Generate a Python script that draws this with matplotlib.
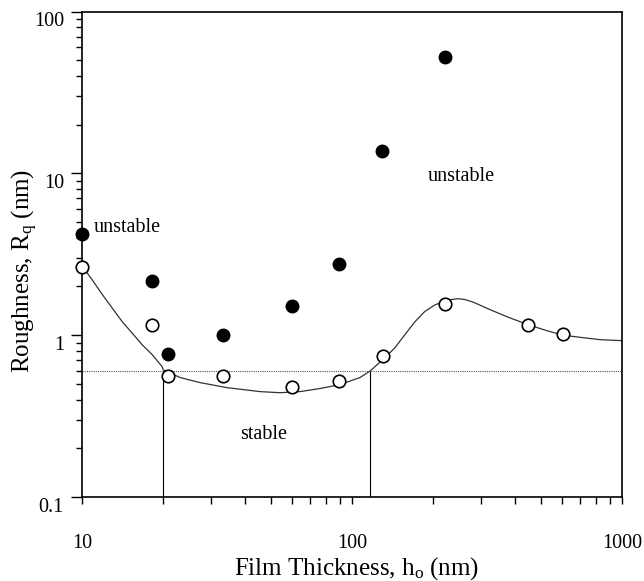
import matplotlib
matplotlib.use("Agg")
import matplotlib.pyplot as plt
import matplotlib.transforms as mtransforms
from matplotlib.ticker import FixedLocator, LogLocator, NullFormatter

plt.rcParams['font.family'] = ['Liberation Serif', 'DejaVu Serif']
plt.rcParams['mathtext.fontset'] = 'custom'
plt.rcParams['mathtext.rm'] = 'Liberation Serif'
plt.rcParams['mathtext.it'] = 'Liberation Serif:italic'

# unstable films (filled circles)
unstable_h = [10, 18.2, 20.8, 33.3, 60, 89.5, 129, 221]
unstable_rq = [4.23, 2.17, 0.76, 1.0, 1.52, 2.76, 13.8, 52.4]

# stable / measured films (open circles)
stable_h = [10, 18.2, 20.8, 33.3, 60, 89.5, 130, 221, 449, 604]
stable_rq = [2.65, 1.15, 0.56, 0.56, 0.48, 0.52, 0.74, 1.56, 1.15, 1.01]

# fitted curve
curve_h = [10, 10.9, 11.9, 12.9, 14.1, 15.3, 16.7, 18.2, 19.8, 20.0, 23.1, 27.4,
           34.4, 45.6, 54.1, 64.2, 76.1, 90.2, 107, 116.6, 132.5, 144.3, 157,
           171, 186, 203, 221, 233, 247, 262, 281, 324, 375, 449, 527, 604,
           717, 829, 1000]
curve_rq = [2.68, 2.20, 1.78, 1.48, 1.21, 1.035, 0.873, 0.758, 0.639, 0.61, 0.547,
            0.509, 0.474, 0.448, 0.441, 0.448, 0.468, 0.495, 0.547, 0.60, 0.726,
            0.837, 1.007, 1.21, 1.40, 1.54, 1.62, 1.66, 1.68, 1.66, 1.60, 1.44,
            1.30, 1.16, 1.066, 1.0, 0.965, 0.938, 0.925]

threshold = 0.6
stable_limits = [20.0, 116.6]

fig = plt.figure(figsize=(6.44, 5.81), dpi=100)
ax = fig.add_axes([82 / 644, 84 / 581, 540 / 644, 485.5 / 581])
ax.set_xscale('log')
ax.set_yscale('log')
ax.set_xlim(10, 1000)
ax.set_ylim(0.1, 100)

ax.plot(curve_h, curve_rq, color='#333333', lw=0.9, zorder=2)
ax.axhline(threshold, color='#555555', lw=0.8, ls=(0, (1, 1)), zorder=1)
ax.vlines(stable_limits, 0.1, threshold, color='black', lw=0.8, zorder=1)

ax.plot(stable_h, stable_rq, 'o', ms=9, mfc='white', mec='black', mew=1.2,
        ls='none', zorder=3, clip_on=False)
ax.plot(unstable_h, unstable_rq, 'o', ms=9, mfc='black', mec='black',
        ls='none', zorder=4, clip_on=False)

ax.text(11.0, 4.6, 'unstable', fontsize=14.5, va='center', ha='left')
ax.text(253, 9.5, 'unstable', fontsize=14.5, va='center', ha='center')
ax.text(47, 0.243, 'stable', fontsize=14.5, va='center', ha='center')

for s in ax.spines.values():
    s.set_linewidth(1.2)

ax.xaxis.set_major_locator(FixedLocator([10, 100, 1000]))
ax.xaxis.set_minor_locator(LogLocator(base=10, subs=range(2, 10)))
ax.xaxis.set_minor_formatter(NullFormatter())
ax.set_xticklabels(['10', '100', '1000'])
ax.yaxis.set_major_locator(FixedLocator([0.1, 1, 10, 100]))
ax.yaxis.set_minor_locator(LogLocator(base=10, subs=range(2, 10)))
ax.yaxis.set_minor_formatter(NullFormatter())
ax.set_yticklabels(['0.1', '1', '10', '100'])

ax.tick_params(axis='x', which='both', direction='out', length=5, width=1,
               top=False, labelsize=14.5, pad=22)
ax.tick_params(axis='y', which='major', direction='out', length=8, width=1,
               right=False, labelsize=14.5, pad=5)
ax.tick_params(axis='y', which='minor', direction='out', length=4, width=1,
               right=False)

# y tick labels sit a little below their ticks in the original
offset = mtransforms.ScaledTranslation(0, -8 / 100, fig.dpi_scale_trans)
for lab in ax.get_yticklabels():
    lab.set_transform(lab.get_transform() + offset)

fig.text(357 / 644, 6 / 581, r'Film Thickness, h$_{\rm o}$ (nm)', fontsize=18,
         ha='center', va='baseline')
fig.text(25 / 644, 1 - 271 / 581, r'Roughness, R$_{\rm q}$ (nm)', fontsize=18,
         ha='center', va='center', rotation=90)

fig.savefig('out.png', dpi=100)
